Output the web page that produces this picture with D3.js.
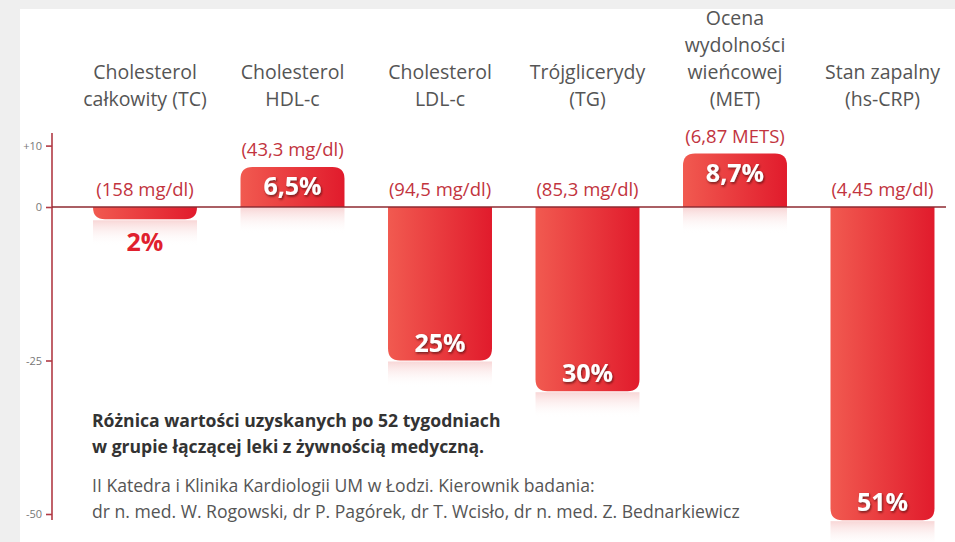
<!DOCTYPE html>
<html><head><meta charset="utf-8">
<script src="https://cdn.jsdelivr.net/npm/d3@7"></script>
<style>body{margin:0;background:#fff}svg{display:block}</style>
</head><body>
<script>
const categories = [
  ["Cholesterol", "całkowity (TC)"],
  ["Cholesterol", "HDL-c"],
  ["Cholesterol", "LDL-c"],
  ["Trójglicerydy", "(TG)"],
  ["Ocena", "wydolności", "wieńcowej", "(MET)"],
  ["Stan zapalny", "(hs-CRP)"]
];
const changes = [-2, 6.5, -25, -30, 8.7, -51];
const percentLabels = ["2%", "6,5%", "25%", "30%", "8,7%", "51%"];
const baseValues = ["(158 mg/dl)", "(43,3 mg/dl)", "(94,5 mg/dl)", "(85,3 mg/dl)", "(6,87 METS)", "(4,45 mg/dl)"];
const tickValues = [10, 0, -25, -50];
const tickLabels = ["+10", "0", "-25", "-50"];
const captionLines = ["Różnica wartości uzyskanych po 52 tygodniach", "w grupie łączącej leki z żywnością medyczną."];
const creditLines = ["II Katedra i Klinika Kardiologii UM w Łodzi. Kierownik badania:", "dr n. med. W. Rogowski, dr P. Pagórek, dr T. Wcisło, dr n. med. Z. Bednarkiewicz"];

const W = 955, H = 542;
const svg = d3.select("body").append("svg").attr("width", W).attr("height", H);
const font = "'Open Sans', 'Noto Sans', sans-serif";

// frame
svg.append("rect").attr("width", W).attr("height", H).attr("fill", "#efefef");
svg.append("rect").attr("x", 20).attr("y", 9).attr("width", W - 20).attr("height", H - 9).attr("fill", "#ffffff");

const defs = svg.append("defs");
const grad = defs.append("linearGradient").attr("id", "barGrad").attr("x1", "0").attr("x2", "1").attr("y1", "0").attr("y2", "0");
grad.append("stop").attr("offset", "0").attr("stop-color", "#f15a50");
grad.append("stop").attr("offset", "1").attr("stop-color", "#e11b2c");
const reflDown = defs.append("linearGradient").attr("id", "reflDown").attr("x1", "0").attr("x2", "0").attr("y1", "0").attr("y2", "1");
reflDown.append("stop").attr("offset", "0").attr("stop-color", "#f3b5b5").attr("stop-opacity", 0.55);
reflDown.append("stop").attr("offset", "1").attr("stop-color", "#ffffff").attr("stop-opacity", 0);
const sh = defs.append("filter").attr("id", "tshadow").attr("x", "-20%").attr("y", "-20%").attr("width", "140%").attr("height", "160%");
sh.append("feDropShadow").attr("dx", 1).attr("dy", 1.5).attr("stdDeviation", 0.8).attr("flood-color", "#4a0a0a").attr("flood-opacity", 0.75);

const x = d3.scaleBand().domain(d3.range(categories.length)).range([49.5, 978]).paddingInner(0.295).paddingOuter(0.295);
const y = d3.scaleLinear().domain([0, -50]).range([207, 514]);

// reflections
changes.forEach((v, i) => {
  const bx = x(i), bw = x.bandwidth();
  const startY = v < 0 ? y(v) : y(0);
  svg.append("rect").attr("x", bx).attr("y", startY + 1).attr("width", bw).attr("height", 26)
    .attr("fill", "url(#reflDown)");
});

function barPath(bx, bw, y0, y1, r) {
  const h = Math.abs(y1 - y0);
  r = Math.min(r, h, bw / 2);
  if (y1 < y0) {
    return `M${bx},${y0}V${y1 + r}Q${bx},${y1} ${bx + r},${y1}H${bx + bw - r}Q${bx + bw},${y1} ${bx + bw},${y1 + r}V${y0}Z`;
  } else {
    return `M${bx},${y0}V${y1 - r}Q${bx},${y1} ${bx + r},${y1}H${bx + bw - r}Q${bx + bw},${y1} ${bx + bw},${y1 - r}V${y0}Z`;
  }
}

svg.selectAll("path.bar").data(changes).enter().append("path").attr("class", "bar")
  .attr("d", (v, i) => barPath(x(i), x.bandwidth(), y(0), y(v), 12))
  .attr("fill", "url(#barGrad)");

// axis
const axis = svg.append("g").attr("transform", "translate(52,0)")
  .call(d3.axisLeft(y).tickValues(tickValues).tickFormat((d, i) => tickLabels[i]).tickSize(6).tickSizeOuter(0));
axis.select(".domain").remove();
axis.append("line").attr("y1", 133).attr("y2", 520).attr("stroke", "#b13a45").attr("stroke-width", 1.6);
axis.selectAll(".tick line").attr("stroke", "#b13a45").attr("stroke-width", 1.6);
axis.selectAll(".tick text").attr("fill", "#777").attr("font-size", 11).attr("font-family", font).attr("x", -10);

// zero line
svg.append("line").attr("x1", 52).attr("x2", 946).attr("y1", y(0)).attr("y2", y(0))
  .attr("stroke", "#8e2a30").attr("stroke-width", 1.6);

// category labels
categories.forEach((lines, i) => {
  const cx = x(i) + x.bandwidth() / 2;
  const t = svg.append("text").attr("text-anchor", "middle").attr("font-family", font)
    .attr("font-size", 19.5).attr("fill", "#555");
  lines.forEach((l, j) => {
    t.append("tspan").attr("x", cx).attr("y", 106 - (lines.length - 1 - j) * 27).text(l);
  });
});

// base values
svg.selectAll("text.base").data(changes).enter().append("text").attr("class", "base")
  .attr("x", (v, i) => x(i) + x.bandwidth() / 2)
  .attr("y", v => v < 0 ? y(0) - 11 : y(v) - 11)
  .attr("text-anchor", "middle").attr("font-family", font).attr("font-size", 18.5)
  .attr("fill", "#c2343e").text((v, i) => baseValues[i]);

// percent labels
svg.selectAll("text.pct").data(changes).enter().append("text").attr("class", "pct")
  .attr("x", (v, i) => x(i) + x.bandwidth() / 2)
  .attr("y", v => v > 0 ? y(v) + 28 : (Math.abs(v) < 5 ? y(v) + 32 : y(v) - 9))
  .attr("text-anchor", "middle").attr("font-family", font).attr("font-weight", 700).attr("font-size", 25)
  .attr("fill", v => Math.abs(v) < 5 ? "#e0202e" : "#ffffff")
  .attr("filter", v => Math.abs(v) < 5 ? null : "url(#tshadow)")
  .text((v, i) => percentLabels[i]);

// caption
captionLines.forEach((l, j) => {
  svg.append("text").attr("x", 92).attr("y", 427 + j * 26).attr("font-family", font)
    .attr("font-weight", 700).attr("font-size", 17.6).attr("fill", "#333").text(l);
});
creditLines.forEach((l, j) => {
  svg.append("text").attr("x", 92).attr("y", 492 + j * 26).attr("font-family", font)
    .attr("font-size", 17.6).attr("fill", "#555").text(l);
});
</script>
</body></html>
